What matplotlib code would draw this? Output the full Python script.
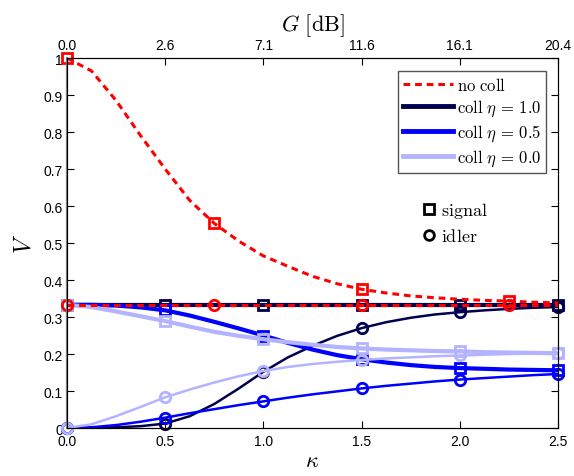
"""Visibility V of signal and idler vs coupling kappa, with and without collapse."""

import matplotlib

matplotlib.use("Agg")
import matplotlib.pyplot as plt
from matplotlib.lines import Line2D

plt.rcParams["mathtext.fontset"] = "cm"
plt.rcParams["font.family"] = ["Liberation Sans", "DejaVu Sans"]

# --- data ------------------------------------------------------------------
kappa_curve = [0.0, 0.125, 0.25, 0.375, 0.5, 0.625, 0.75, 0.875, 1.0, 1.125, 1.25,
               1.375, 1.5, 1.625, 1.75, 1.875, 2.0, 2.125, 2.25, 2.375, 2.5]

coll10_signal = [0.333] * 21
coll10_idler = [0.0, 0.0, 0.002, 0.005, 0.012, 0.032, 0.065, 0.107, 0.152, 0.191, 0.222,
                0.249, 0.270, 0.286, 0.298, 0.307, 0.313, 0.318, 0.322, 0.325, 0.327]
coll05_signal = [0.333, 0.333, 0.331, 0.326, 0.318, 0.304, 0.287, 0.269, 0.250, 0.230, 0.212,
                 0.197, 0.186, 0.177, 0.170, 0.165, 0.162, 0.160, 0.158, 0.157, 0.156]
coll05_idler = [0.0, 0.002, 0.008, 0.017, 0.028, 0.040, 0.051, 0.062, 0.072, 0.082, 0.091,
                0.099, 0.107, 0.114, 0.120, 0.126, 0.131, 0.135, 0.139, 0.143, 0.146]
coll00_signal = [0.333, 0.327, 0.315, 0.302, 0.289, 0.274, 0.260, 0.249, 0.240, 0.232, 0.225,
                 0.219, 0.215, 0.212, 0.210, 0.208, 0.207, 0.205, 0.204, 0.203, 0.202]
coll00_idler = [0.0, 0.010, 0.032, 0.057, 0.083, 0.104, 0.123, 0.140, 0.154, 0.165, 0.173,
                0.179, 0.184, 0.188, 0.191, 0.194, 0.196, 0.198, 0.200, 0.201, 0.203]

nocoll_signal = [1.0, 0.965, 0.885, 0.79, 0.70, 0.615, 0.553, 0.505, 0.465, 0.437, 0.41,
                 0.39, 0.375, 0.365, 0.357, 0.352, 0.348, 0.345, 0.343, 0.340, 0.338]
nocoll_idler = [0.333] * 21

x_ticks = [0.0, 0.5, 1.0, 1.5, 2.0, 2.5]
x_labels = ["0.0", "0.5", "1.0", "1.5", "2.0", "2.5"]
g_labels = ["0.0", "2.6", "7.1", "11.6", "16.1", "20.4"]
y_ticks = [0.0, 0.1, 0.2, 0.3, 0.4, 0.5, 0.6, 0.7, 0.8, 0.9, 1.0]
y_labels = ["0", "0.1", "0.2", "0.3", "0.4", "0.5", "0.6", "0.7", "0.8", "0.9", "1"]

NAVY = "#000050"
BLUE = "#0000ff"
LIGHT = "#b3b3ff"
RED = "#ff0000"
DASH = (2.2, 1.6)

fig = plt.figure(figsize=(5.74, 4.77), dpi=100)
ax = fig.add_axes([0.1167, 0.1006, 0.8555, 0.7757])

series = [
    (NAVY, coll10_signal, coll10_idler),
    (BLUE, coll05_signal, coll05_idler),
    (LIGHT, coll00_signal, coll00_idler),
]
mk = dict(markersize=7.5, markeredgewidth=2.0, markerfacecolor="none",
          linestyle="none", clip_on=False)
for color, sig, idl in series:
    ax.plot(kappa_curve, sig, color=color, lw=3.0, solid_capstyle="butt")
    ax.plot(kappa_curve, idl, color=color, lw=1.8)
    # markers at kappa = 0, 0.5, 1.0, ...
    ax.plot(kappa_curve[::4], sig[::4], marker="s", markeredgecolor=color, **mk)
    ax.plot(kappa_curve[::4], idl[::4], marker="o", markeredgecolor=color, **mk)

ax.plot(kappa_curve, nocoll_signal, color=RED, lw=2.2, dashes=DASH)
ax.plot(kappa_curve, nocoll_idler, color=RED, lw=2.2, dashes=DASH)
# no-collapse markers at kappa = 0, 0.75, 1.5, 2.25
ax.plot(kappa_curve[::6], nocoll_signal[::6], marker="s", markeredgecolor=RED, **mk)
ax.plot(kappa_curve[::6], nocoll_idler[::6], marker="o", markeredgecolor=RED, **mk)

ax.set_xlim(0, 2.5)
ax.set_ylim(0, 1)
ax.set_xticks(x_ticks)
ax.set_xticklabels(x_labels)
ax.set_yticks(y_ticks)
ax.set_yticklabels(y_labels)
ax.tick_params(direction="in", length=5, labelsize=10, right=True, pad=4)
ax.tick_params(axis="y", pad=3)
ax.spines["left"].set_color("#808080")
ax.spines["left"].set_linewidth(1.6)
ax.set_xlabel(r"$\kappa$", fontsize=16, labelpad=2)
ax.set_ylabel(r"$V$", fontsize=17, labelpad=6)

top = ax.twiny()
top.set_xlim(ax.get_xlim())
top.set_xticks(x_ticks)
top.set_xticklabels(g_labels)
top.tick_params(direction="in", length=5, labelsize=10, pad=4)
top.set_xlabel(r"$G\ [\mathrm{dB}]$", fontsize=16, labelpad=6)

handles = [
    Line2D([], [], color=RED, lw=2.2, dashes=DASH),
    Line2D([], [], color=NAVY, lw=3.5),
    Line2D([], [], color=BLUE, lw=3.5),
    Line2D([], [], color=LIGHT, lw=3.5),
]
labels = [r"$\mathrm{no\ coll}$", r"$\mathrm{coll}\ \eta\,=\,1.0$",
          r"$\mathrm{coll}\ \eta\,=\,0.5$", r"$\mathrm{coll}\ \eta\,=\,0.0$"]
leg = top.legend(handles, labels, loc="upper right", bbox_to_anchor=(0.9756, 0.965),
                 borderaxespad=0, fancybox=False, edgecolor="#555555", framealpha=1,
                 handlelength=3.0, handletextpad=0.25, labelspacing=0.28,
                 borderpad=0.3, prop={"size": 12})
leg.get_frame().set_linewidth(1.0)

mark_handles = [
    Line2D([], [], color="black", marker="s", markersize=7, markeredgewidth=2,
           markerfacecolor="none", linestyle="none"),
    Line2D([], [], color="black", marker="o", markersize=7, markeredgewidth=2,
           markerfacecolor="none", linestyle="none"),
]
ax.legend(mark_handles, [r"$\mathrm{signal}$", r"$\mathrm{idler}$"], loc="upper left",
          bbox_to_anchor=(0.69, 0.66), frameon=False, handlelength=0.8,
          handletextpad=0.25, labelspacing=0.45, prop={"size": 13})

fig.savefig("out.png", dpi=100)
plt.close(fig)
